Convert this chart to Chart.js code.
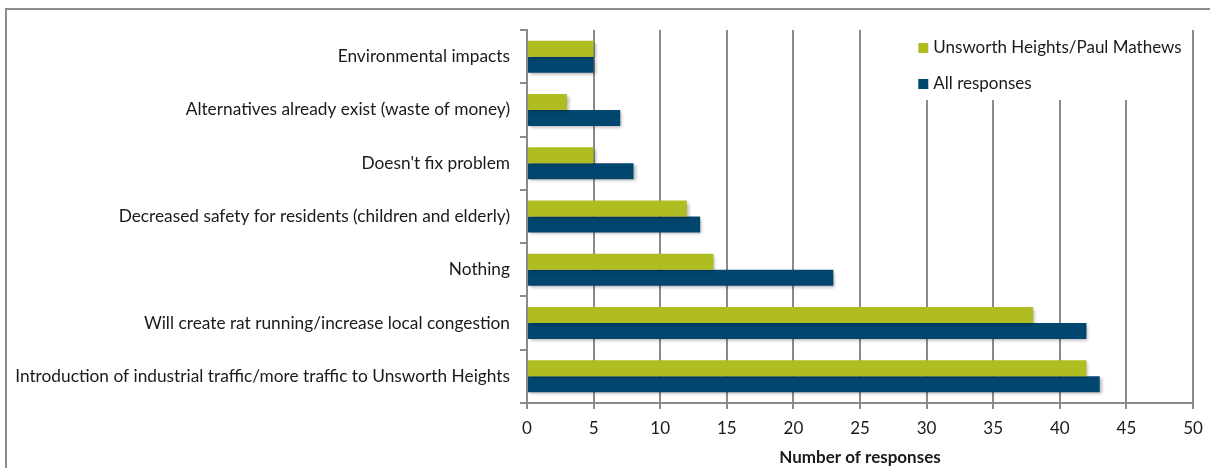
<!DOCTYPE html>
<html>
<head>
<meta charset="utf-8">
<script src="https://cdn.jsdelivr.net/npm/chart.js@4/dist/chart.umd.min.js"></script>
<style>
  html, body { margin: 0; padding: 0; background: #fff; }
  #wrap { width: 1210px; height: 468px; position: relative; }
</style>
</head>
<body>
<div id="wrap"><canvas id="c" width="1210" height="468"></canvas></div>
<script>
// Concerns raised, top to bottom
const categories = [
  "Environmental impacts",
  "Alternatives already exist (waste of money)",
  "Doesn't fix problem",
  "Decreased safety for residents (children and elderly)",
  "Nothing",
  "Will create rat running/increase local congestion",
  "Introduction of industrial traffic/more traffic to Unsworth Heights"
];
const unsworthValues = [5, 3, 5, 12, 14, 38, 42];
const allValues = [5, 7, 8, 13, 23, 42, 43];
const seriesNames = ["Unsworth Heights/Paul Mathews", "All responses"];
const xTicks = [0, 5, 10, 15, 20, 25, 30, 35, 40, 45, 50];

const GREEN = "#afbd22";
const BLUE = "#00466e";
const GRID = "#8a8a8a";
const FONT = "Lato, 'Open Sans', sans-serif";

// Outer frame around the whole figure
const framePlugin = {
  id: "frame",
  beforeDraw(chart) {
    const ctx = chart.ctx;
    ctx.save();
    ctx.fillStyle = "#fff";
    ctx.fillRect(0, 0, chart.width, chart.height);
    ctx.strokeStyle = "#8c8c8c";
    ctx.lineWidth = 2;
    ctx.strokeRect(6, 9, chart.width + 20, chart.height + 20);
    ctx.restore();
  }
};

// Legend box inside the plot area, drawn over the grid
const insideLegend = {
  id: "insideLegend",
  beforeDatasetsDraw(chart) {
    const ctx = chart.ctx;
    const xs = chart.scales.x;
    const left = xs.getPixelForValue(28.7);
    const right = xs.getPixelForValue(49.6);
    const top = chart.chartArea.top - 2;
    const bottom = chart.chartArea.top + 70;
    ctx.save();
    ctx.fillStyle = "#fff";
    ctx.fillRect(left, top, right - left, bottom - top);
    ctx.font = "17px " + FONT;
    ctx.textBaseline = "middle";
    ctx.textAlign = "left";
    chart.data.datasets.forEach((ds, i) => {
      const y = top + 20 + i * 36;
      const sx = left + 9;
      ctx.fillStyle = ds.backgroundColor;
      ctx.fillRect(sx, y - 5, 10, 10);
      ctx.fillStyle = "#1a1a1a";
      ctx.fillText(ds.label, sx + 15, y);
    });
    ctx.restore();
  }
};

// Soft drop shadow under the bars
const barShadow = {
  id: "barShadow",
  beforeDatasetsDraw(chart) {
    const ctx = chart.ctx;
    ctx.save();
    ctx.shadowColor = "rgba(0,0,0,0.28)";
    ctx.shadowOffsetX = 2;
    ctx.shadowOffsetY = 2;
    ctx.shadowBlur = 3;
  },
  afterDatasetsDraw(chart) {
    chart.ctx.restore();
  }
};

new Chart(document.getElementById("c"), {
  type: "bar",
  data: {
    labels: categories,
    datasets: [
      { label: seriesNames[0], data: unsworthValues, backgroundColor: GREEN },
      { label: seriesNames[1], data: allValues, backgroundColor: BLUE }
    ]
  },
  plugins: [framePlugin, insideLegend, barShadow],
  options: {
    indexAxis: "y",
    responsive: false,
    animation: false,
    devicePixelRatio: 1,
    layout: { padding: { left: 0, right: 17, top: 30, bottom: 0 } },
    datasets: { bar: { categoryPercentage: 0.6, barPercentage: 1.0 } },
    plugins: { legend: { display: false }, tooltip: { enabled: false } },
    scales: {
      x: {
        type: "linear",
        min: 0,
        max: 50,
        afterBuildTicks(scale) { scale.ticks = xTicks.map(v => ({ value: v })); },
        afterFit(scale) {
          scale.height = 65;
          scale.paddingLeft = 0;
          scale.paddingRight = 0;
        },
        grid: { color: GRID, lineWidth: 2, drawTicks: true, tickLength: 6, tickColor: GRID },
        border: { display: true, color: GRID, width: 2 },
        ticks: { color: "#1a1a1a", font: { family: FONT, size: 17 }, padding: 9 },
        title: {
          display: true,
          text: "Number of responses",
          color: "#1a1a1a",
          font: { family: FONT, size: 17, weight: "bold" },
          padding: { top: 2, bottom: 0 }
        }
      },
      y: {
        afterFit(scale) { scale.width = 527; },
        grid: { drawOnChartArea: false, drawTicks: true, tickLength: 7, color: GRID, lineWidth: 2, offset: true },
        border: { display: true, color: GRID, width: 2 },
        ticks: { color: "#1a1a1a", font: { family: FONT, size: 17.3 }, padding: 10 }
      }
    }
  }
});
</script>
</body>
</html>
